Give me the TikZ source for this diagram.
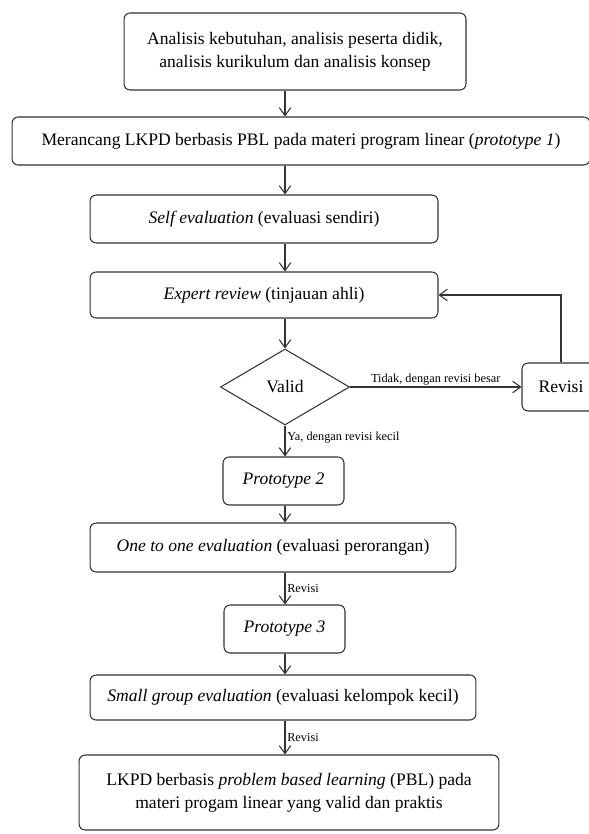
\documentclass[tikz,border=0pt]{standalone}
\usepackage{fontspec}
\setmainfont{Liberation Serif}
\usetikzlibrary{shapes.geometric,arrows.meta}
\begin{document}
\begin{tikzpicture}[x=0.02cm, y=-0.02cm,
  box/.style={draw=black!80, line width=0.6pt, rounded corners=3.5pt, inner sep=0pt, align=center, font=\fontsize{10}{13}\selectfont},
  arr/.style={draw=black!80, line width=0.6pt, -{Straight Barb[length=4.5pt,width=6.5pt]}},
  lbl/.style={font=\fontsize{7}{8}\selectfont, inner sep=1pt}]
\useasboundingbox (0,0) rectangle (588,834);
\coordinate (ax) at (285,0);
\node[box, minimum width=6.84cm, minimum height=1.54cm] (analisis) at (295,51.5){Analisis kebutuhan, analisis peserta didik,\\ analisis kurikulum dan analisis konsep};
\node[box, minimum width=11.56cm, minimum height=0.96cm] (rancang) at (301,141){Merancang LKPD berbasis PBL pada materi program linear (\textit{prototype 1})};
\node[box, minimum width=6.96cm, minimum height=0.96cm] (self) at (264,219){\textit{Self evaluation} (evaluasi sendiri)};
\node[box, minimum width=6.96cm, minimum height=0.92cm] (expert) at (264,295){\textit{Expert review} (tinjauan ahli)};
\node[draw=black!80, line width=0.6pt, diamond, inner sep=0pt, minimum width=2.58cm, minimum height=1.52cm, font=\fontsize{10}{12}\selectfont] (valid) at (285,387){Valid};
\node[box, minimum width=1.56cm, minimum height=0.96cm] (revisi) at (561,387){Revisi};
\node[box, minimum width=2.42cm, minimum height=0.96cm] (proto2) at (283.5,481){\textit{Prototype 2}};
\node[box, minimum width=7.32cm, minimum height=0.98cm] (onetoone) at (273,547.5){\textit{One to one evaluation} (evaluasi perorangan)};
\node[box, minimum width=2.42cm, minimum height=0.96cm] (proto3) at (284.5,629){\textit{Prototype 3}};
\node[box, minimum width=7.72cm, minimum height=0.9cm] (small) at (283,697.5){\textit{Small group evaluation} (evaluasi kelompok kecil)};
\node[box, minimum width=8.4cm, minimum height=1.5cm] (hasil) at (289,792.5){LKPD berbasis \textit{problem based learning} (PBL) pada\\ materi progam linear yang valid dan praktis};
% alur utama
\draw[arr] (analisis.south -| ax) -- (rancang.north -| ax);
\draw[arr] (rancang.south -| ax) -- (self.north -| ax);
\draw[arr] (self.south -| ax) -- (expert.north -| ax);
\draw[arr] (expert.south -| ax) -- (valid.north);
\draw[arr] (valid.south) -- node[lbl, right, pos=0.4]{Ya, dengan revisi kecil} (proto2.north -| ax);
\draw[arr] (proto2.south -| ax) -- (onetoone.north -| ax);
\draw[arr] (onetoone.south -| ax) -- node[lbl, right]{Revisi} (proto3.north -| ax);
\draw[arr] (proto3.south -| ax) -- (small.north -| ax);
\draw[arr] (small.south -| ax) -- node[lbl, right]{Revisi} (hasil.north -| ax);
% revisi besar
\draw[arr] (valid.east) -- node[lbl, above]{Tidak, dengan revisi besar} (revisi.west);
\draw[arr] (revisi.north) |- (expert.east);
\end{tikzpicture}
\end{document}
